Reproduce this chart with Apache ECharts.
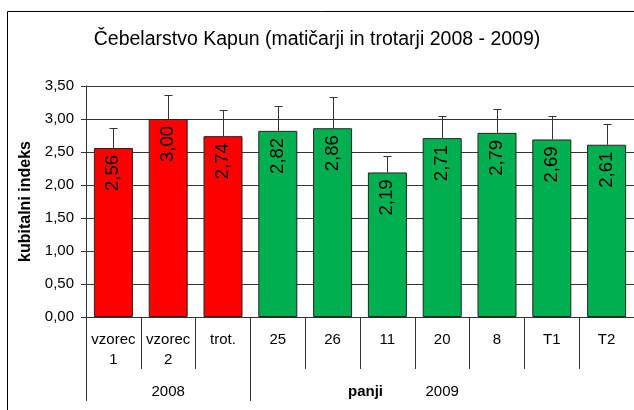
<!DOCTYPE html>
<html><head><meta charset="utf-8">
<script src="https://cdn.jsdelivr.net/npm/echarts@6/dist/echarts.min.js"></script>
<style>html,body{margin:0;padding:0;background:#fff}#c{width:634px;height:410px}</style>
</head><body><div id="c"></div>
<script>
const categories = ['vzorec\n1','vzorec\n2','trot.','25','26','11','20','8','T1','T2'];
const values = [2.56,3.00,2.74,2.82,2.86,2.19,2.71,2.79,2.69,2.61];
const errors = [0.31,0.37,0.39,0.37,0.48,0.25,0.34,0.36,0.36,0.32];
const yearGroups = [{pos:1.5,text:'2008'},{pos:5.1,text:'{b|panji}'},{pos:6.5,text:'2009'}];
const groupBounds = [0,3];
const count2008 = 3;

const FF = 'Liberation Sans, Arial, sans-serif';
const fmt = v => v.toFixed(2).replace('.', ',');
const chart = echarts.init(document.getElementById('c'), null, {renderer:'canvas'});
chart.setOption({
  animation:false,
  backgroundColor:'#fff',
  textStyle:{fontFamily:FF},
  title:{text:'Čebelarstvo Kapun (matičarji in trotarji 2008 - 2009)', left:'center', top:25,
    textStyle:{fontSize:19.5, fontWeight:'normal', color:'#000', fontFamily:FF}},
  graphic:[{type:'rect', shape:{x:7.5,y:11.5,width:700,height:500}, style:{fill:null, stroke:'#000', lineWidth:1}, z:-1, silent:true}],
  grid:{left:86, top:86, width:548, height:231, containLabel:false},
  xAxis:[{
    type:'category', data:categories, boundaryGap:true,
    axisLine:{show:true, lineStyle:{color:'#333'}},
    axisTick:{show:true, interval:0, length:52, lineStyle:{color:'#333'}},
    axisLabel:{interval:0, color:'#000', fontSize:15, margin:13, lineHeight:20, fontFamily:FF},
    splitLine:{show:false}
  },{
    type:'value', min:0, max:10, position:'bottom',
    axisLine:{show:false},
    axisTick:{show:true, customValues:groupBounds, length:84, lineStyle:{color:'#333'}},
    axisLabel:{show:true, customValues:yearGroups.map(g=>g.pos), margin:67, color:'#000', fontSize:15, fontFamily:FF,
      formatter:function(v){ const g = yearGroups.find(x=>Math.abs(x.pos-v)<1e-6); return g?g.text:''; },
      rich:{b:{fontWeight:'bold', fontSize:15, color:'#000', fontFamily:FF}}},
    splitLine:{show:false}
  }],
  yAxis:{
    type:'value', min:0, max:3.5, interval:0.5,
    name:'kubitalni indeks', nameLocation:'middle', nameGap:49,
    nameTextStyle:{fontWeight:'bold', fontSize:16, color:'#000', fontFamily:FF},
    axisLine:{show:true, lineStyle:{color:'#333'}},
    axisTick:{show:true, length:5, lineStyle:{color:'#333'}},
    axisLabel:{formatter:fmt, color:'#000', fontSize:15, margin:12, fontFamily:FF},
    splitLine:{show:true, lineStyle:{color:'#333', width:1}}
  },
  series:[{
    type:'bar', xAxisIndex:0, barWidth:39,
    data: values.map((v,i)=>({value:v, itemStyle:{color: i<count2008?'#FF0000':'#00B050'}})),
    itemStyle:{borderColor:'#222', borderWidth:1},
    label:{show:true, position:'insideTop', rotate:90, align:'right', verticalAlign:'middle', distance:7,
      fontSize:18.5, color:'#000', fontFamily:FF, formatter:p=>fmt(p.value)}
  },{
    type:'custom', xAxisIndex:0, z:1,
    data: values.map((v,i)=>[i, v, errors[i]]),
    renderItem:function(params, api){
      const i = api.value(0), v = api.value(1), e = api.value(2);
      const p0 = api.coord([i, v]), p1 = api.coord([i, v+e]);
      const x = Math.round(p0[0])+0.5, y1 = Math.round(p1[1])+0.5;
      return {type:'group', children:[
        {type:'line', shape:{x1:x,y1:p0[1],x2:x,y2:y1}, style:{stroke:'#333', lineWidth:1}},
        {type:'line', shape:{x1:x-4,y1:y1,x2:x+4,y2:y1}, style:{stroke:'#333', lineWidth:1}}
      ]};
    }
  }]
});
</script></body></html>
